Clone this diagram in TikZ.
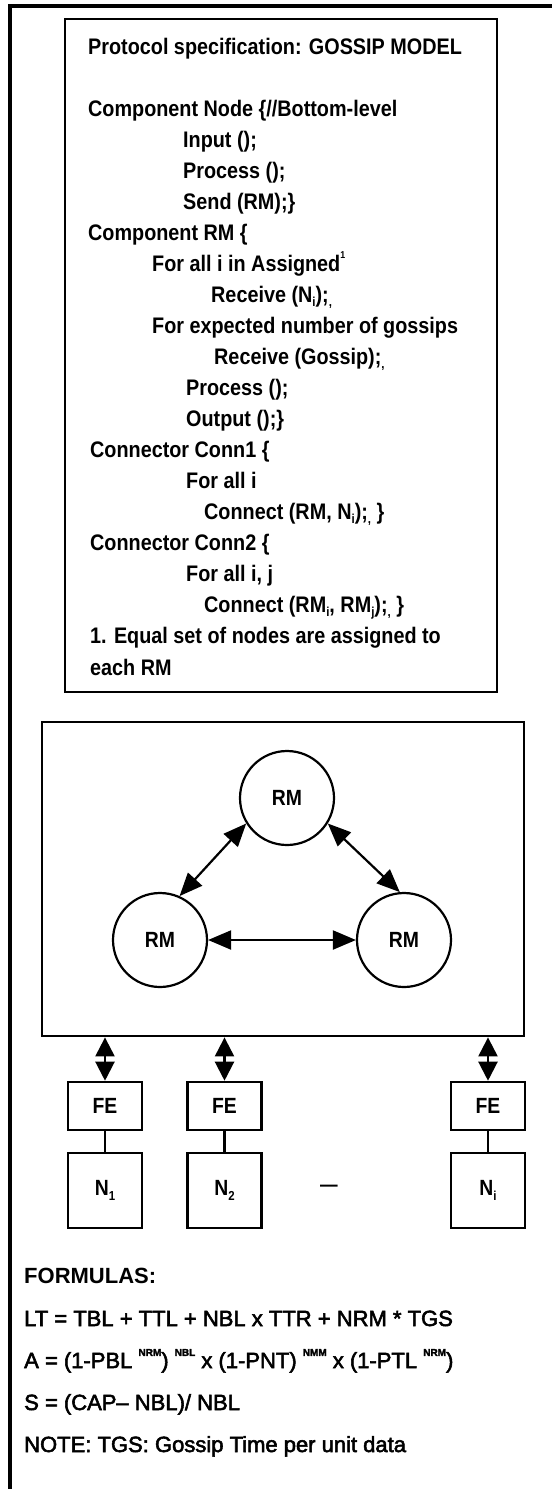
\documentclass[tikz,border=0pt]{standalone}
\usepackage{fontspec}
\setmainfont{Liberation Sans}
\newfontfamily\specfont[Ligatures=TeX,FakeStretch=0.88,UprightFont={* Bold}]{Liberation Sans}
\newfontfamily\formfont[Ligatures=TeX,FakeBold=2.5]{Liberation Sans}
\usetikzlibrary{arrows.meta}
\newcommand\supx[1]{\raisebox{0.55em}{\fontsize{10}{10}\selectfont\bfseries #1}}
\newcommand\subx[1]{\raisebox{-0.2em}{\fontsize{13}{13}\selectfont #1}}
\begin{document}
\begin{tikzpicture}[x=1pt,y=-1pt,
  frame/.style={line width=3.2pt},
  boxline/.style={draw,line width=2.8pt,inner sep=0pt},
  spec/.style={anchor=base west,inner sep=0pt,font=\specfont\fontsize{22.5}{26}\selectfont},
  formula/.style={anchor=base west,inner sep=0pt,font=\formfont\fontsize{22}{26}\selectfont},
  rm/.style={circle,draw,line width=2.2pt,minimum size=94pt,inner sep=0pt,font=\specfont\fontsize{22}{25}\selectfont},
  smallbox/.style={draw,line width=2.6pt,minimum width=74pt,inner sep=0pt,font=\specfont\fontsize{22}{25}\selectfont},
  arr/.style={line width=2.2pt,{Triangle[length=23pt,width=19pt]}-{Triangle[length=23pt,width=19pt]}},
  varr/.style={line width=2.2pt,{Triangle[length=19pt,width=19pt]}-{Triangle[length=19pt,width=19pt]}},
  link/.style={line width=2.6pt}
]
\useasboundingbox (0,0) rectangle (552,1489);
% outer frame (top and left only)
\draw[frame] (10,1489) -- (10,6) -- (552,6);
% spec box
\node[boxline,minimum width=432pt,minimum height=673pt] (spec) at (281,355.5) {};
\node[spec] (l1) at (88,54) {Protocol specification: GOSSIP MODEL};
\node[spec] (l3) at (88,116) {Component Node \{//Bottom-level};
\node[spec] (l4) at (183,147) {Input ();};
\node[spec] (l5) at (183,178) {Process ();};
\node[spec] (l6) at (183,209) {Send (RM);\}};
\node[spec] (l7) at (88,240) {Component RM \{};
\node[spec] (l8) at (152,271) {For all i in Assigned\supx{1}};
\node[spec] (l9) at (211,302) {Receive (N\subx{i});\subx{,}};
\node[spec] (l10) at (152,333) {For expected number of gossips};
\node[spec] (l11) at (214,364) {Receive (Gossip);\subx{,}};
\node[spec] (l12) at (186,395) {Process ();};
\node[spec] (l13) at (186,426) {Output ();\}};
\node[spec] (l14) at (90,457) {Connector Conn1 \{};
\node[spec] (l15) at (186,488) {For all i};
\node[spec] (l16) at (204,519) {Connect (RM, N\subx{i});\subx{,} \}};
\node[spec] (l17) at (90,550) {Connector Conn2 \{};
\node[spec] (l18) at (186,581) {For all i, j};
\node[spec] (l19) at (204,612) {Connect (RM\subx{i}, RM\subx{j});\subx{,} \}};
\node[spec] (l20) at (90,643) {1. Equal set of nodes are assigned to};
\node[spec] (l21) at (90,675) {each RM};
% graph box
\node[boxline,minimum width=482pt,minimum height=314pt] (graph) at (283,879) {};
\node[rm] (rmt) at (287,798) {RM};
\node[rm] (rml) at (160,940) {RM};
\node[rm] (rmr) at (404,940) {RM};
\draw[arr] (rmt.212) -- (rml.66);
\draw[arr] (rmt.-32) -- (rmr.95);
\draw[arr] (rml.east) -- (rmr.west);
% FE and N boxes
\node[smallbox,minimum height=48pt] (fe1) at (105,1106) {FE};
\node[smallbox,minimum height=48pt] (fe2) at (224.5,1106) {FE};
\node[smallbox,minimum height=48pt] (fe3) at (488,1106) {FE};
\node[smallbox,minimum height=75pt] (n1) at (105,1190.5) {N\subx{1}};
\node[smallbox,minimum height=75pt] (n2) at (224.5,1190.5) {N\subx{2}};
\node[smallbox,minimum height=75pt] (n3) at (488,1190.5) {N\subx{i}};
\node[font=\specfont\fontsize{20}{20}\selectfont] (dots) at (329,1188) {—};
\draw[varr] (graph.south -| fe1.north) -- (fe1.north);
\draw[varr] (graph.south -| fe2.north) -- (fe2.north);
\draw[varr] (graph.south -| fe3.north) -- (fe3.north);
\draw[link] (fe1.south) -- (n1.north);
\draw[link] (fe2.south) -- (n2.north);
\draw[link] (fe3.south) -- (n3.north);
% formulas
\node[formula,font=\bfseries\fontsize{22}{26}\selectfont] (fh) at (24,1283) {FORMULAS:};
\node[formula] (f1) at (24,1326) {LT = TBL + TTL + NBL x TTR + NRM * TGS};
\node[formula] (f2) at (24,1368) {A = (1-PBL \supx{NRM}) \supx{NBL} x (1-PNT) \supx{NMM} x (1-PTL \supx{NRM})};
\node[formula] (f3) at (24,1410) {S = (CAP– NBL)/ NBL};
\node[formula] (f4) at (24,1452) {NOTE: TGS: Gossip Time per unit data};
\end{tikzpicture}
\end{document}
